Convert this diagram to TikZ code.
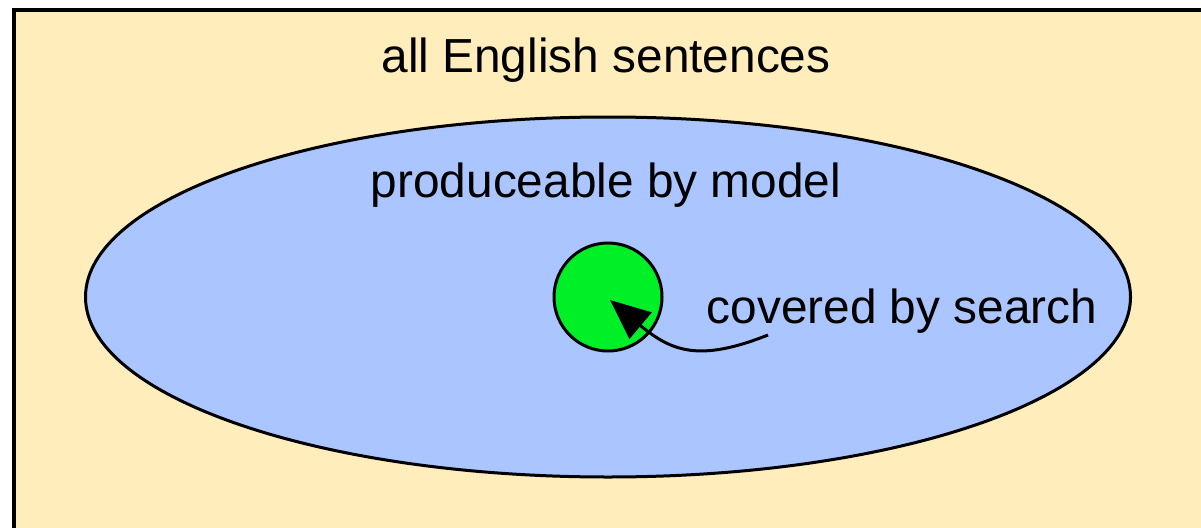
\documentclass[tikz,border=0pt]{standalone}
\usepackage{fontspec}
\setmainfont{Liberation Sans}
\usetikzlibrary{shapes.geometric,arrows.meta}
\definecolor{cream}{HTML}{FFEEBB}
\definecolor{modelblue}{HTML}{AAC5FF}
\definecolor{searchgreen}{HTML}{00F028}
\tikzset{
  lbl/.style={anchor=base, inner sep=0pt, font=\fontsize{47.8}{57}\selectfont},
}
\begin{document}
\begin{tikzpicture}[x=1pt,y=-1pt]
\useasboundingbox (0,0) rectangle (1201,527);
\begin{scope}
\clip (0,0) rectangle (1201,527);
\draw[line width=4pt, fill=cream] (14,10) rectangle (1240,580);
\end{scope}
\node[lbl] (all) at (606,73) {all English sentences};
\node[ellipse, draw, line width=3pt, fill=modelblue, minimum width=1045pt, minimum height=360pt, inner sep=0pt] (model) at (608,297) {};
\node[lbl] (prod) at (606,197) {produceable by model};
\node[circle, draw, line width=3pt, fill=searchgreen, minimum size=108pt, inner sep=0pt] (search) at (608,297) {};
\node[lbl] (cov) at (902,323) {covered by search};
\coordinate (tail) at (768,335);
\coordinate (tip) at (610,300);
\draw[line width=3pt, -{Triangle[length=40pt,width=34pt]}] (tail) .. controls (700,362) and (672,352) .. (tip);
\end{tikzpicture}
\end{document}
